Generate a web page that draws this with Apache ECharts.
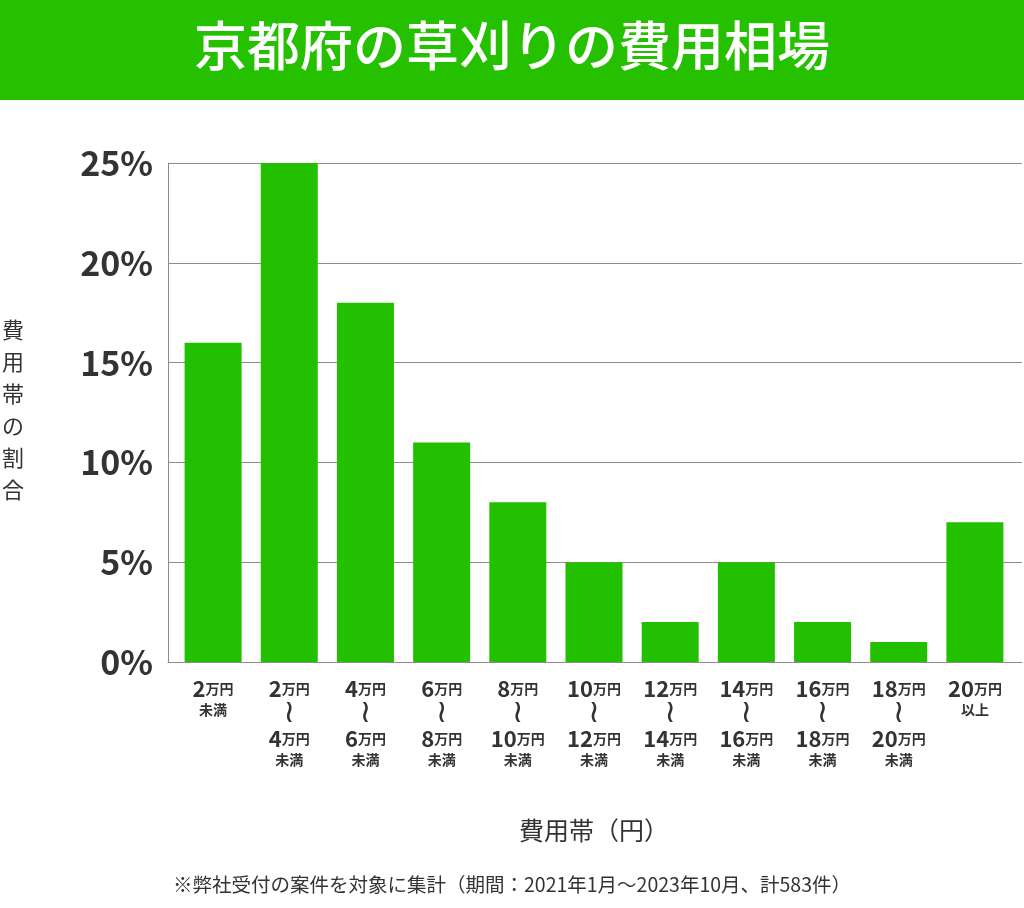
<!DOCTYPE html>
<html>
<head>
<meta charset="utf-8">
<style>
  html, body { margin: 0; padding: 0; background: #fff; }
  #main { width: 1024px; height: 908px; }
</style>
<script src="https://cdn.jsdelivr.net/npm/echarts@6/dist/echarts.min.js"></script>
</head>
<body>
<div id="main"></div>
<script>
var categories = [
  '2万円\n未満',
  '2万円\n≀\n4万円\n未満',
  '4万円\n≀\n6万円\n未満',
  '6万円\n≀\n8万円\n未満',
  '8万円\n≀\n10万円\n未満',
  '10万円\n≀\n12万円\n未満',
  '12万円\n≀\n14万円\n未満',
  '14万円\n≀\n16万円\n未満',
  '16万円\n≀\n18万円\n未満',
  '18万円\n≀\n20万円\n未満',
  '20万円\n以上'
];
var shares = [16, 25, 18, 11, 8, 5, 2, 5, 2, 1, 7];
var yTicks = [0, 5, 10, 15, 20, 25];

var titleText = '京都府の草刈りの費用相場';
var yName = '費用帯の割合';
var xName = '費用帯（円）';
var note = '※弊社受付の案件を対象に集計（期間：2021年1月～2023年10月、計583件）';

var green = '#22c000';
var font = '"Noto Sans CJK JP", "Noto Sans", sans-serif';
var gridColor = '#8c8c8c';

var myChart = echarts.init(document.getElementById('main'));

// ラベルを行ごとにリッチテキストへ変換
function fmtLabel(v) {
  return v.split('\n').map(function (line) {
    if (line === '≀') return '{w|≀}';
    if (line === '未満' || line === '以上') return '{s|' + line + '}';
    var m = line.match(/^(\d+)(万円)$/);
    if (m) return '{n|' + m[1] + '}{u|' + m[2] + '}';
    return line;
  }).join('\n');
}

var option = {
  animation: false,
  backgroundColor: '#fff',
  textStyle: { fontFamily: font },
  graphic: [
    {
      type: 'rect',
      left: 0, top: 0,
      shape: { width: 1024, height: 100 },
      style: { fill: '#25c000' },
      z: 0
    },
    {
      type: 'text',
      left: 'center', top: 19,
      style: {
        text: titleText,
        fill: '#fff',
        font: '500 53px ' + font
      }
    },
    {
      type: 'text',
      left: 2, top: 314,
      style: {
        text: yName.split('').join('\n'),
        fill: '#333',
        font: '22px ' + font,
        lineHeight: 32,
        align: 'center'
      }
    },
    {
      type: 'text',
      left: 'center', top: 875,
      style: {
        text: note,
        fill: '#333',
        font: '19.5px ' + font
      }
    }
  ],
  // grid 0: 目盛りと罫線, grid 1: 棒グラフ
  grid: [
    { left: 168, right: 2, top: 163, bottom: 246 },
    { left: 175, right: 11, top: 163, bottom: 246 }
  ],
  xAxis: [
    {
      gridIndex: 0,
      type: 'category',
      data: categories,
      axisLine: { show: true, lineStyle: { color: gridColor, width: 1 } },
      axisTick: { show: false },
      axisLabel: { show: false }
    },
    {
      gridIndex: 1,
      type: 'category',
      data: categories,
      name: xName,
      nameLocation: 'middle',
      nameGap: 156,
      nameTextStyle: { fontSize: 25, color: '#333', fontFamily: font },
      axisLine: { show: false },
      axisTick: { show: false },
      axisLabel: {
        interval: 0,
        margin: 15,
        color: '#333',
        formatter: fmtLabel,
        rich: {
          n: { fontSize: 22, fontWeight: 'bold', color: '#333', lineHeight: 24, fontFamily: font },
          u: { fontSize: 14, fontWeight: 'bold', color: '#333', lineHeight: 24, fontFamily: font },
          s: { fontSize: 14, fontWeight: 'bold', color: '#333', lineHeight: 18, fontFamily: font },
          w: { fontSize: 32, fontWeight: 'normal', color: '#333', lineHeight: 26, fontFamily: '"DejaVu Sans", sans-serif' }
        }
      }
    }
  ],
  yAxis: [
    {
      gridIndex: 0,
      type: 'value',
      min: yTicks[0],
      max: yTicks[yTicks.length - 1],
      interval: 5,
      axisLine: { show: true, lineStyle: { color: gridColor, width: 1 } },
      axisTick: { show: false },
      splitLine: { lineStyle: { color: gridColor, width: 1 } },
      axisLabel: {
        margin: 15,
        fontSize: 34,
        fontWeight: 'bold',
        color: '#333',
        fontFamily: font,
        formatter: '{value}%'
      }
    },
    {
      gridIndex: 1,
      type: 'value',
      min: yTicks[0],
      max: yTicks[yTicks.length - 1],
      interval: 5,
      show: false
    }
  ],
  series: [{
    type: 'bar',
    xAxisIndex: 1,
    yAxisIndex: 1,
    data: shares,
    barWidth: 57,
    itemStyle: { color: green },
    silent: true
  }]
};

myChart.setOption(option);
</script>
</body>
</html>
